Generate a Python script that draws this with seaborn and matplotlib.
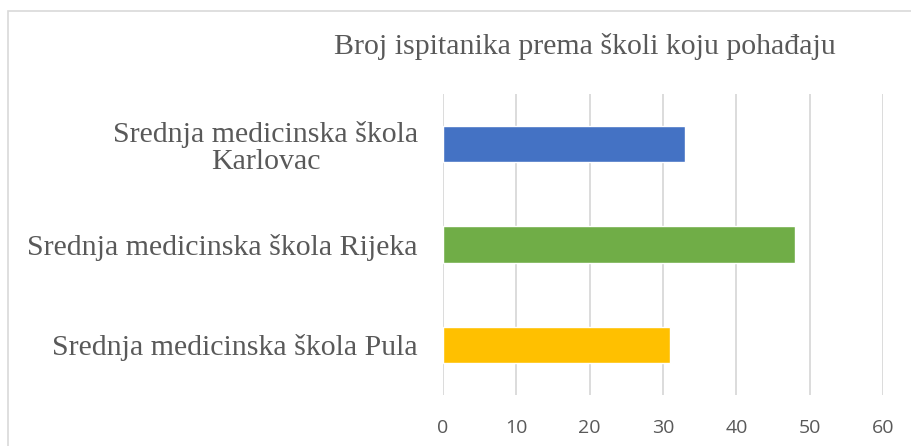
import matplotlib
matplotlib.use("Agg")
import matplotlib.pyplot as plt
import seaborn as sns
import pandas as pd
from matplotlib.patches import Rectangle

# podaci
skole = ["Srednja medicinska škola\nKarlovac",
         "Srednja medicinska škola Rijeka",
         "Srednja medicinska škola Pula"]
broj = [33, 48, 31]
boje = ["#4472C4", "#70AD47", "#FFC000"]
x_ticks = [0, 10, 20, 30, 40, 50, 60]
naslov = "Broj ispitanika prema školi koju pohađaju"

df = pd.DataFrame({"skola": skole, "broj": broj})

sns.set_style("white")
plt.rcParams["font.family"] = ["Liberation Serif", "DejaVu Serif"]

fig = plt.figure(figsize=(9.12, 4.46), dpi=100)
ax = fig.add_axes([443 / 912, 1 - 395 / 446, 440 / 912, 301 / 446])

sns.barplot(data=df, x="broj", y="skola", hue="skola", palette=boje,
            legend=False, width=0.36, saturation=1, ax=ax)

ax.set_xlim(0, 60)
ax.set_ylim(2.5, -0.5)
ax.set_xticks(x_ticks)
ax.set_xticklabels([str(t) for t in x_ticks], family=["Open Sans", "DejaVu Sans"],
                   fontsize=14, color="#595959")
ax.tick_params(axis="x", length=0, pad=17)
ax.tick_params(axis="y", length=0, pad=18)
for lab in ax.get_yticklabels():
    lab.set_fontsize(21.5)
    lab.set_color("#595959")
    lab.set_multialignment("center")
    lab.set_linespacing(1.08)
ax.set_xlabel("")
ax.set_ylabel("")
ax.grid(axis="x", color="#D9D9D9", linewidth=1.3)
ax.set_axisbelow(True)
for s in ax.spines.values():
    s.set_visible(False)

fig.text(585 / 912, 1 - 47 / 446, naslov, ha="center", va="center",
         fontsize=21.5, color="#595959")

# okvir grafikona
fig.patches.append(Rectangle((8 / 912, -0.1), 1.2, 1 - 11 / 446 + 0.1,
                             transform=fig.transFigure, fill=False,
                             edgecolor="#D9D9D9", linewidth=1.2))

fig.savefig("out.png", dpi=100)
